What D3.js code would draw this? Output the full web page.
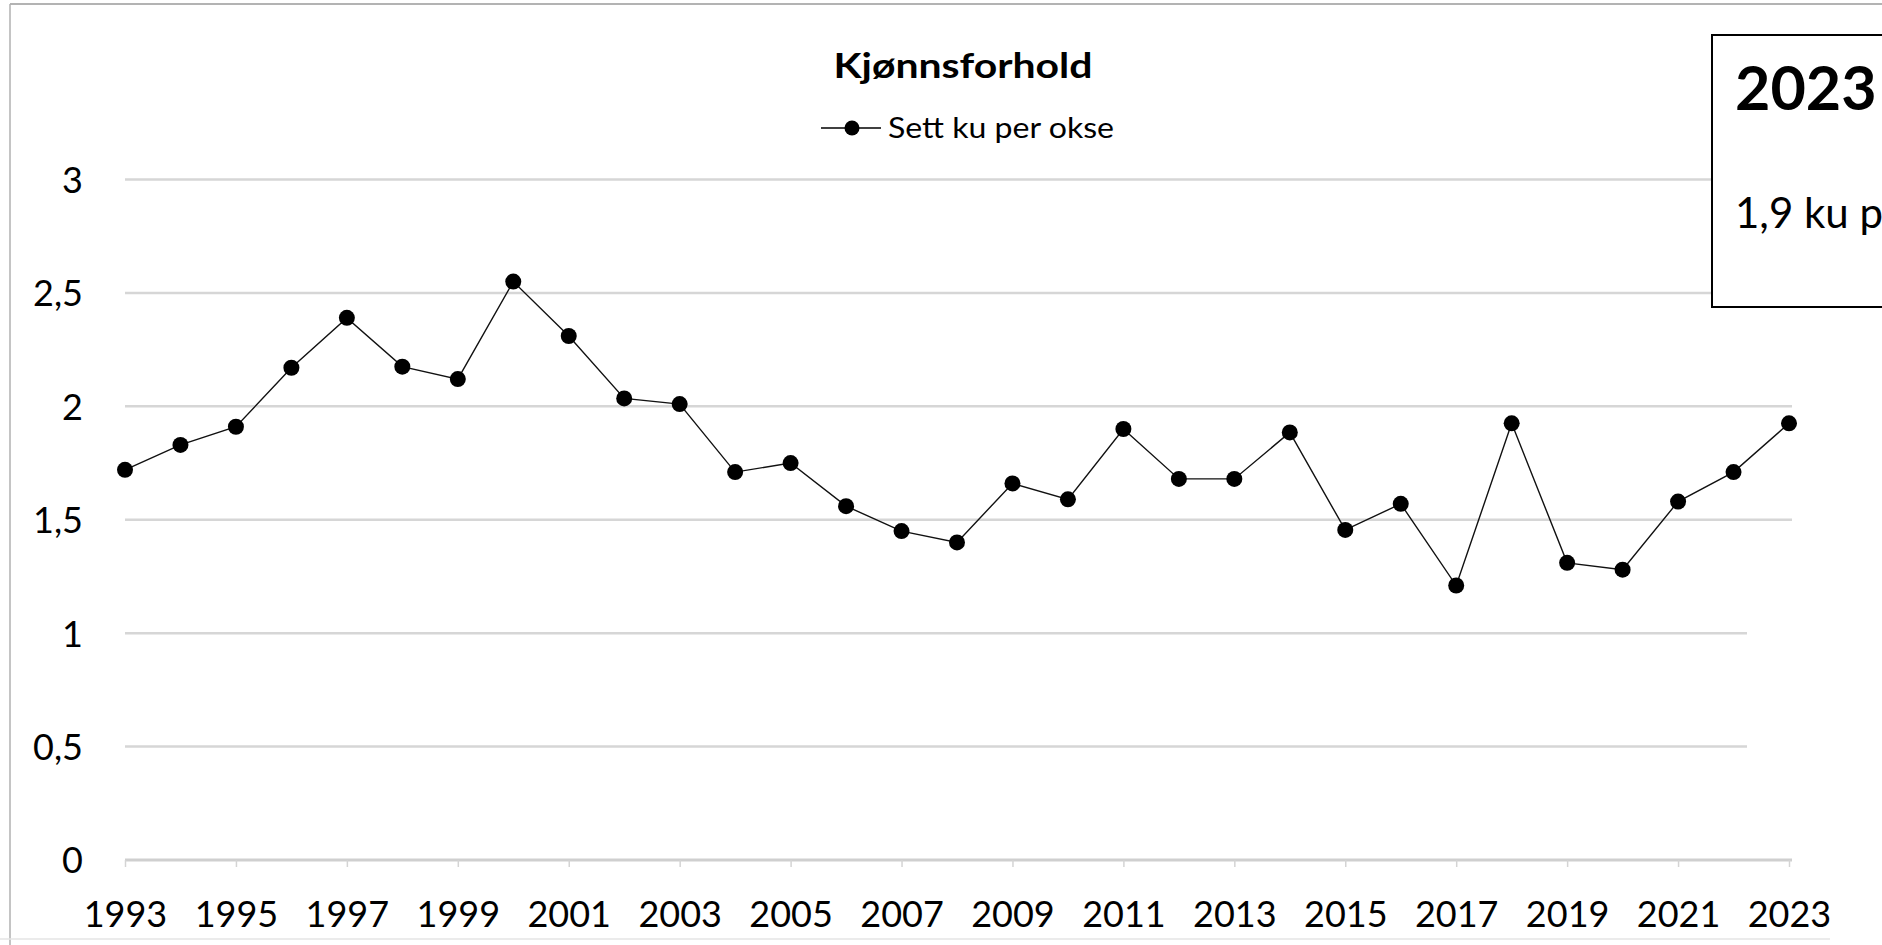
<!DOCTYPE html>
<html>
<head>
<meta charset="utf-8">
<script src="https://cdn.jsdelivr.net/npm/d3@7"></script>
<style>
  html, body { margin: 0; padding: 0; background: #fff; }
  svg { display: block; font-family: Lato, "Open Sans", sans-serif; }
</style>
</head>
<body>
<svg id="chart" width="1882" height="945"></svg>
<script>
// ---- data ----
const years = [1993,1994,1995,1996,1997,1998,1999,2000,2001,2002,2003,2004,2005,2006,2007,2008,2009,2010,2011,2012,2013,2014,2015,2016,2017,2018,2019,2020,2021,2022,2023];
const kuPerOkse = [1.72,1.83,1.91,2.17,2.39,2.175,2.12,2.55,2.31,2.035,2.01,1.71,1.75,1.56,1.45,1.40,1.66,1.59,1.90,1.68,1.68,1.885,1.455,1.57,1.21,1.925,1.31,1.28,1.58,1.71,1.925];
const yTicks = [0,0.5,1,1.5,2,2.5,3];
const xTickLabels = [1993,1995,1997,1999,2001,2003,2005,2007,2009,2011,2013,2015,2017,2019,2021,2023];
const chartTitle = "Kjønnsforhold";
const seriesName = "Sett ku per okse";
const boxTitle = "2023";
const boxText = "1,9 ku per okse";

// ---- layout ----
const svg = d3.select("#chart");
const W = 1882, H = 945;
const x = d3.scalePoint().domain(years).range([125, 1789]);
const y = d3.scaleLinear().domain([0, 3]).range([860, 179.5]);
const fmt = v => String(v).replace(".", ",");

svg.append("rect").attr("width", W).attr("height", H).attr("fill", "#fff");

// frame lines
svg.append("line").attr("x1", 10).attr("x2", W).attr("y1", 4).attr("y2", 4)
  .attr("stroke", "#9a9a9a").attr("stroke-width", 1.5);
svg.append("line").attr("x1", 10).attr("x2", 10).attr("y1", 4).attr("y2", H)
  .attr("stroke", "#b0b0b0").attr("stroke-width", 1.5);
svg.append("line").attr("x1", 0).attr("x2", 1830).attr("y1", 939).attr("y2", 939)
  .attr("stroke", "#e4e4e4").attr("stroke-width", 1.5);

// gridlines
const gridG = svg.append("g");
gridG.selectAll("line").data(yTicks.filter(d => d > 0)).join("line")
  .attr("x1", 125).attr("x2", 1792)
  .attr("y1", d => y(d)).attr("y2", d => y(d))
  .attr("stroke", "#d6d6d6").attr("stroke-width", 2.5);

// x axis (baseline + ticks + labels)
const xAxis = d3.axisBottom(x)
  .tickValues(xTickLabels)
  .tickSize(7)
  .tickPadding(36)
  .tickFormat(d => d);
const xg = svg.append("g").attr("transform", `translate(0,${y(0)})`).call(xAxis);
xg.select(".domain").attr("stroke", "#cfcfcf").attr("stroke-width", 3).attr("d", "M125,0H1792");
xg.selectAll(".tick line").attr("stroke", "#d4d4d4").attr("stroke-width", 1.5);
xg.selectAll(".tick text")
  .attr("font-family", "Lato, sans-serif")
  .attr("font-size", 36).attr("fill", "#000")
  .attr("dy", 0).attr("y", 67);

// screenshot artifact: white patch cutting lower gridlines at the right
svg.append("rect").attr("x", 1747).attr("y", 600).attr("width", 60).attr("height", 230).attr("fill", "#fff");

// y axis labels
const yAxis = d3.axisLeft(y).tickValues(yTicks).tickSize(0).tickPadding(0).tickFormat(fmt);
const yg = svg.append("g").attr("transform", "translate(83,0)").call(yAxis);
yg.select(".domain").remove();
yg.selectAll(".tick text")
  .attr("font-family", "Lato, sans-serif")
  .attr("font-size", 36).attr("fill", "#000")
  .attr("dy", "0.36em");

// line + markers
const line = d3.line().x((d, i) => x(years[i])).y(d => y(d));
svg.append("path").datum(kuPerOkse)
  .attr("d", line).attr("fill", "none")
  .attr("stroke", "#111").attr("stroke-width", 1.4);
svg.append("g").selectAll("circle").data(kuPerOkse).join("circle")
  .attr("cx", (d, i) => x(years[i])).attr("cy", d => y(d))
  .attr("r", 8).attr("fill", "#000");

// title
svg.append("text").attr("x", 963).attr("y", 78)
  .attr("text-anchor", "middle").attr("font-weight", 700)
  .attr("font-size", 34).attr("textLength", 259).attr("lengthAdjust", "spacingAndGlyphs")
  .text(chartTitle);

// legend
const lg = svg.append("g");
lg.append("line").attr("x1", 821).attr("x2", 881).attr("y1", 128).attr("y2", 128)
  .attr("stroke", "#000").attr("stroke-width", 1.5);
lg.append("circle").attr("cx", 852).attr("cy", 128).attr("r", 7.5).attr("fill", "#000");
lg.append("text").attr("x", 888).attr("y", 138)
  .attr("font-size", 28).attr("textLength", 226).attr("lengthAdjust", "spacingAndGlyphs")
  .text(seriesName);

// annotation box
svg.append("rect").attr("x", 1712).attr("y", 35).attr("width", 240).attr("height", 272)
  .attr("fill", "#fff").attr("stroke", "#000").attr("stroke-width", 2);
svg.append("text").attr("x", 1735).attr("y", 110)
  .attr("font-weight", 700).attr("font-size", 61).text(boxTitle);
svg.append("text").attr("x", 1735).attr("y", 228)
  .attr("font-size", 42).text(boxText);
</script>
</body>
</html>
